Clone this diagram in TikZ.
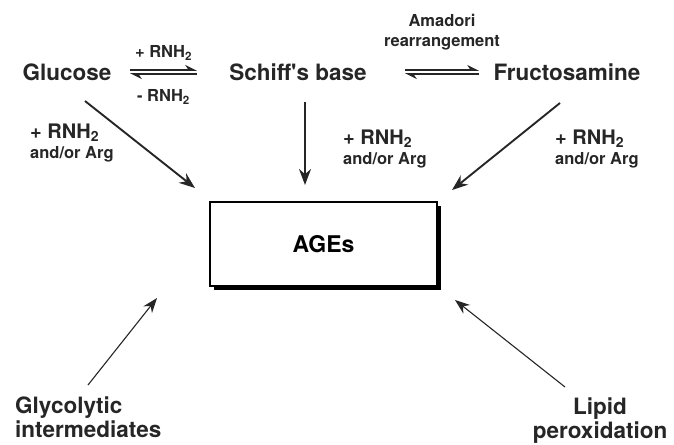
\documentclass[tikz,border=0pt]{standalone}
\usepackage{fontspec}
\setmainfont{TeX Gyre Heros}
\usetikzlibrary{arrows.meta,positioning,shadows}
\newcommand{\rnh}{RNH\textsubscript{2}}

\begin{document}
\begin{tikzpicture}[x=1pt,y=-1pt,
  species/.style={font=\fontsize{22.5}{24}\selectfont\bfseries, inner sep=0pt, text=black!85},
  cond/.style={font=\fontsize{16.5}{20}\selectfont\bfseries, inner sep=0pt, text=black!85},
  reag/.style={font=\fontsize{16.5}{20}\selectfont\bfseries, inner sep=0pt, text=black!85, align=left},
  agesbox/.style={draw, line width=2pt, fill=white, minimum width=227pt, minimum height=84pt,
    font=\fontsize{23}{24}\selectfont\bfseries,
    general shadow={fill=black, shadow xshift=4pt, shadow yshift=-4pt}},
  equil/.style={-{Stealth[harpoon,length=10pt,width=10pt]}, line width=1.8pt, black!85},
  mainarr/.style={-{Stealth[length=16pt,width=12pt]}, line width=1.9pt, black!85},
  sidearr/.style={-{Stealth[length=15pt,width=11pt]}, line width=1.1pt, black!85}]
  \useasboundingbox (0,0) rectangle (674,444);

  %% Species
  \node[species] (glucose) at (67,72) {Glucose};
  \node[species] (schiff)  at (298,72) {Schiff\textquotesingle s base};
  \node[species] (fructo)  at (567,72) {Fructosamine};
  \node[agesbox] (ages) at (323.5,244) {AGEs};
  \node[species, align=left, anchor=north west] (glyco) at (15,397) {Glycolytic\\intermediates};
  \node[species, align=center, anchor=north] (lipid) at (600,398) {Lipid\\peroxidation};

  %% Equilibria
  \draw[equil] ([shift={(63,-2)}]glucose.center) -- ([shift={(-101,-2)}]schiff.center)
    node[midway, above=9pt, cond] (plusrnh) {+ \rnh};
  \draw[equil] ([shift={(-101,2)}]schiff.center) -- ([shift={(63,2)}]glucose.center)
    node[midway, below=15pt, cond] (minusrnh) {- \rnh};
  \draw[equil] ([shift={(107,-2)}]schiff.center) -- ([shift={(-88,-2)}]fructo.center)
    node[midway, above=19pt, cond, align=center] (amadori) {Amadori\\rearrangement};
  \draw[equil] ([shift={(-88,2)}]fructo.center) -- ([shift={(107,2)}]schiff.center);

  %% Arrows to AGEs
  \draw[mainarr] ([shift={(18,29)}]glucose.center) -- ([shift={(-128.5,-56)}]ages.center);
  \draw[mainarr] ([shift={(7,30)}]schiff.center)   -- ([shift={(-18.5,-59)}]ages.center);
  \draw[mainarr] ([shift={(-7,31)}]fructo.center)  -- ([shift={(128.5,-54)}]ages.center);
  \draw[sidearr] ([shift={(73,-12)}]glyco.north west) -- ([shift={(-166.5,54)}]ages.center);
  \draw[sidearr] ([shift={(-35,-11)}]lipid.north) -- ([shift={(131.5,56)}]ages.center);

  %% Reagent labels
  \node[reag, anchor=north west] (reagl) at (30,124) {{\fontsize{20}{20}\selectfont + \rnh}\\and/or Arg};
  \node[reag, anchor=north west] (reagm) at (343,130) {{\fontsize{20}{20}\selectfont + \rnh}\\and/or Arg};
  \node[reag, anchor=north west] (reagr) at (555,130) {{\fontsize{20}{20}\selectfont + \rnh}\\and/or Arg};
\end{tikzpicture}
\end{document}
